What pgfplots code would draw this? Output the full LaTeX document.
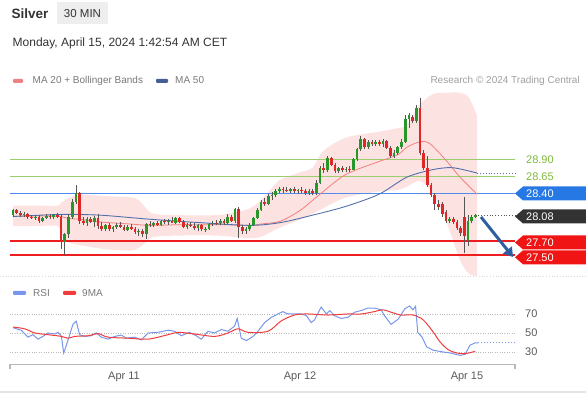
\documentclass[border=0pt]{standalone}
\usepackage{fontspec}
\setmainfont{Liberation Sans}
\usepackage{pgfplots}
\usepackage{pgfplotstable}
\pgfplotsset{compat=1.18}
\usepgfplotslibrary{fillbetween}
\usetikzlibrary{arrows.meta}
\definecolor{cgreen}{RGB}{40,150,40}
\definecolor{cred}{RGB}{222,40,40}
\definecolor{wick}{RGB}{85,85,85}
\definecolor{bandpink}{RGB}{253,226,226}
\definecolor{maline}{RGB}{240,128,128}
\definecolor{mafifty}{RGB}{82,112,172}
\definecolor{lvlgreen}{RGB}{155,205,110}
\definecolor{lvlblue}{RGB}{80,140,235}
\definecolor{lvlred}{RGB}{238,30,30}
\definecolor{tagblue}{RGB}{38,120,228}
\definecolor{tagdark}{RGB}{51,51,51}
\definecolor{tagred}{RGB}{240,20,20}
\definecolor{txtgreen}{RGB}{125,185,60}
\definecolor{rsiblue}{RGB}{120,150,235}
\definecolor{rsired}{RGB}{240,60,60}
\definecolor{labgray}{RGB}{90,90,90}
\definecolor{leggray}{RGB}{120,120,120}
\definecolor{arrowblue}{RGB}{45,95,160}

\pgfplotstableread{
i o h l c
0 28.08 28.17 28.06 28.15
1 28.15 28.17 28.09 28.11
2 28.11 28.14 28.06 28.08
3 28.08 28.12 28.05 28.10
4 28.10 28.11 28.03 28.05
5 28.05 28.08 28.02 28.04
6 28.04 28.07 28.01 28.06
7 28.06 28.08 27.97 28.00
8 28.00 28.05 27.98 28.04
9 28.04 28.09 28.02 28.07
10 28.07 28.09 28.03 28.05
11 28.05 28.10 28.03 28.08
12 28.08 28.11 28.04 28.06
13 28.06 28.09 27.58 27.68
14 27.68 27.82 27.49 27.80
15 27.80 28.10 27.75 28.06
16 28.06 28.32 28.02 28.28
17 28.28 28.52 28.25 28.40
18 28.40 28.42 27.95 28.00
19 28.00 28.06 27.93 27.97
20 27.97 28.05 27.92 28.02
21 28.02 28.06 27.96 27.98
22 27.98 28.07 27.90 28.04
23 28.04 28.10 27.88 27.92
24 27.92 27.98 27.85 27.88
25 27.88 27.95 27.84 27.93
26 27.93 27.96 27.85 27.87
27 27.87 27.92 27.83 27.90
28 27.90 27.97 27.87 27.94
29 27.94 27.98 27.89 27.91
30 27.91 27.94 27.84 27.86
31 27.86 27.93 27.84 27.91
32 27.91 27.95 27.86 27.88
33 27.88 27.90 27.80 27.83
34 27.83 27.88 27.78 27.85
35 27.85 27.87 27.76 27.80
36 27.80 27.97 27.73 27.95
37 27.95 27.99 27.91 27.93
38 27.93 27.98 27.90 27.96
39 27.96 28.00 27.92 27.94
40 27.94 28.01 27.92 27.99
41 27.99 28.03 27.95 27.98
42 27.98 28.02 27.94 28.00
43 28.00 28.05 27.96 27.97
44 27.97 28.06 27.95 28.04
45 28.04 28.06 27.96 27.98
46 27.98 28.01 27.89 27.91
47 27.91 27.97 27.88 27.94
48 27.94 27.98 27.90 27.92
49 27.92 27.96 27.86 27.89
50 27.89 27.95 27.85 27.93
51 27.93 27.95 27.84 27.87
52 27.87 27.91 27.83 27.88
53 27.88 27.97 27.86 27.95
54 27.95 28.00 27.92 27.97
55 27.97 28.01 27.93 27.96
56 27.96 28.02 27.93 28.00
57 27.99 28.03 27.94 27.97
58 27.97 28.09 27.95 28.05
59 28.05 28.08 27.98 28.00
60 28.00 28.19 27.97 28.17
61 28.17 28.20 27.75 27.90
62 27.90 27.94 27.80 27.85
63 27.85 27.90 27.81 27.88
64 27.88 27.96 27.85 27.94
65 27.94 28.06 27.92 28.04
66 28.04 28.18 28.02 28.16
67 28.16 28.30 28.14 28.27
68 28.27 28.33 28.22 28.25
69 28.25 28.39 28.23 28.36
70 28.36 28.42 28.30 28.38
71 28.38 28.46 28.34 28.44
72 28.44 28.50 28.40 28.47
73 28.47 28.50 28.41 28.45
74 28.45 28.49 28.42 28.44
75 28.44 28.48 28.40 28.46
76 28.46 28.50 28.41 28.43
77 28.43 28.47 28.39 28.45
78 28.45 28.49 28.41 28.44
79 28.44 28.47 28.38 28.41
80 28.41 28.46 28.38 28.44
81 28.44 28.47 28.37 28.40
82 28.40 28.60 28.38 28.56
83 28.56 28.80 28.54 28.78
84 28.78 28.85 28.70 28.74
85 28.74 28.95 28.72 28.92
86 28.92 28.94 28.80 28.82
87 28.82 28.85 28.70 28.73
88 28.73 28.79 28.70 28.77
89 28.77 28.80 28.71 28.74
90 28.74 28.79 28.71 28.76
91 28.76 28.80 28.72 28.75
92 28.75 28.92 28.74 28.90
93 28.90 29.07 28.87 29.05
94 29.05 29.24 29.03 29.20
95 29.20 29.22 29.05 29.08
96 29.08 29.18 29.06 29.15
97 29.15 29.19 29.10 29.12
98 29.12 29.18 29.09 29.15
99 29.15 29.19 29.10 29.13
100 29.13 29.20 29.08 29.17
101 29.17 29.19 29.05 29.07
102 29.07 29.09 28.92 28.95
103 28.95 29.04 28.92 29.00
104 29.00 29.10 28.97 29.08
105 29.08 29.20 29.05 29.16
106 29.16 29.55 29.14 29.50
107 29.50 29.58 29.36 29.55
108 29.53 29.56 29.43 29.46
109 29.46 29.70 29.44 29.66
110 29.66 29.81 28.96 29.00
111 29.00 29.04 28.74 28.78
112 28.78 28.95 28.50 28.53
113 28.53 28.55 28.34 28.38
114 28.38 28.40 28.16 28.24
115 28.24 28.30 28.15 28.20
116 28.24 28.27 28.06 28.09
117 28.12 28.15 27.96 28.00
118 28.00 28.06 27.96 28.03
119 28.03 28.06 27.95 27.98
120 27.98 28.01 27.86 27.89
121 27.89 27.92 27.78 27.82
122 28.05 28.34 27.53 27.77
123 27.72 28.08 27.62 27.99
124 27.99 28.08 27.97 28.06
125 28.06 28.10 28.04 28.08
}\candles

\pgfplotstableread{
i u d
0 28.22 27.92
6 28.22 27.92
12 28.22 27.92
13 28.26 27.80
15 28.33 27.68
18 28.38 27.64
25 28.36 27.58
32 28.34 27.56
34 28.30 27.60
36 28.18 27.68
38 28.10 27.76
45 28.08 27.78
55 28.08 27.78
60 28.12 27.76
64 28.18 27.74
67 28.30 27.76
70 28.48 27.84
72.2 28.60 27.90
77 28.70 28.00
81 28.78 28.10
83.8 29.02 28.18
90 29.22 28.34
99.2 29.31 28.43
104 29.36 28.45
106.5 29.41 28.50
110 29.71 28.58
113.5 29.86 28.40
117 29.88 28.00
120.8 29.88 27.42
123.2 29.81 27.22
125.4 29.55 27.18
}\band

\pgfplotstableread{
i v
0 28.06
6 28.07
12.7 28.06
15 28.03
18 28.02
23.5 27.98
31.6 27.95
37 27.93
45 27.94
50.5 27.94
57 27.94
64 27.93
67 27.95
72.2 27.99
77.6 28.15
83 28.39
90 28.68
99 28.87
104 28.97
106.5 29.08
110 29.16
112.7 29.13
117.3 28.87
120.8 28.64
125.4 28.39
}\matwenty

\pgfplotstableread{
i v
0 28.06
12.7 28.09
23.5 28.08
37 28.02
50.5 27.97
64 27.93
72.2 27.97
81 28.08
90 28.21
99 28.39
106.5 28.64
113.5 28.75
118 28.78
120.8 28.76
125.4 28.70
}\mafifty

\pgfplotstableread{
i v
0 55.5
2.25 52.9
4.05 45.6
5.4 48.2
6.76 43.5
8.1 46.4
9.46 50
11.3 48.9
12.2 50.7
13.1 46.4
13.7 28.9
14.9 42.7
16.2 59.1
17.1 62.4
18.0 48.2
19.4 46.4
21.2 47.1
22.5 50
23.9 45.6
25.7 43.5
27.5 46.4
29.3 47.8
30.6 44.5
32.9 45.6
34.7 42.7
36.5 50
39.2 50.7
41.9 52.9
43.7 51.8
45.5 47.1
47.7 50.7
49.5 47.1
50.9 43.5
52.7 51.8
54.5 50
56.3 53.6
58.1 51.8
59.9 57.3
60.6 65.3
61.7 44.5
63.1 42
64.9 46.4
66.2 51.8
68.0 60.9
69.8 66.4
71.6 70
72.9 72.5
74.3 70
76.1 70
77.9 70
79.3 68.2
80.6 60.9
81.5 63.8
83.3 77.3
84.7 70
85.6 73.6
86.9 68.2
88.7 65.3
90.5 66.4
92.3 71.8
94.1 73.6
95.9 76.2
97.7 76.2
99.5 74.4
100.4 68.2
102.2 59.1
104.1 64.5
105.9 75.5
107.2 78.4
108.1 74.4
108.8 78.0
109.4 50.5
110.5 46
111.8 35.4
113.6 31.8
116.3 30
118.1 29
120.8 26.4
122.2 27.5
123.5 37.1
124.9 39.6
125.7 39.6
}\rsi

\pgfplotstableread{
i v
0 56.2
3.15 54.4
5.9 50
9.46 48.2
13.1 46.4
14.9 44.5
16.7 46.4
20.3 47.1
23.0 49.3
25.7 45.6
31.1 44.5
36.5 43.5
41.9 48.2
44.6 50.7
49.1 48.9
54.5 46.4
58.1 50
60.8 54.4
63.5 50.7
68.9 51.8
72.5 62.7
76.1 68.9
79.7 70
85.1 68.9
90.5 70
94.1 70
97.7 72.5
100 74.4
102.2 71.8
104.9 68.9
108.1 68.9
110.8 64
113.5 51.4
115.4 40.7
117.6 32.5
120 28.9
122.2 28.2
124.9 30.7
}\rsima

\newcommand\pricetag[3]{%
  \fill[#2] (515,#1) -- (523,{#1+7}) -- (586,{#1+7}) -- (586,{#1-7}) -- (523,{#1-7}) -- cycle;
  \node[anchor=west, text=white, inner sep=0pt, font=\fontsize{11}{11}\selectfont] at (526,#1) {#3};}

\begin{document}
\begin{tikzpicture}[x=1pt,y=1pt]

% header
\fill[gray!13] (57,369) rectangle (108,391);
\node[anchor=base, inner sep=0pt, text=tagdark, font=\fontsize{11.5}{12}\selectfont] at (82.5,375.5) {30 MIN};
\node[anchor=base west, inner sep=0pt, text=tagdark, font=\bfseries\fontsize{13.5}{14}\selectfont] at (11.5,374.7) {Silver};
\node[anchor=base west, inner sep=0pt, text=tagdark, font=\fontsize{12}{13}\selectfont] at (12.5,346.3) {Monday, April 15, 2024 1:42:54 AM CET};

% legend main
\fill[maline, rounded corners=1pt] (13,310) rectangle (23,314);
\node[anchor=base west, inner sep=0pt, text=leggray, font=\fontsize{10}{11}\selectfont] at (32.5,309.7) {MA 20 + Bollinger Bands};
\fill[mafifty!85!black, rounded corners=1pt] (156,310) rectangle (168,314);
\node[anchor=base west, inner sep=0pt, text=leggray, font=\fontsize{10}{11}\selectfont] at (175,309.7) {MA 50};
\node[anchor=base east, inner sep=0pt, text=gray!75, font=\fontsize{10}{11}\selectfont] at (580,309) {Research © 2024 Trading Central};

% separators
\draw[gray!30, dotted, line width=0.8pt] (0,117) -- (586,117);
\draw[gray!22, line width=1.2pt] (0,1) -- (586,1);

\begin{axis}[at={(10pt,118pt)}, anchor=south west, scale only axis,
  width=505pt, height=190.4pt,
  xmin=-0.81, xmax=135.68, ymin=27.2, ymax=30.0,
  hide axis, clip=false]
  % Bollinger band
  \addplot[name path=bu, draw=none, smooth] table[x=i, y=u] {\band};
  \addplot[name path=bl, draw=none, smooth] table[x=i, y=d] {\band};
  \addplot[fill=bandpink, draw=none] fill between[of=bu and bl];
  % levels
  \addplot[lvlgreen, line width=0.8pt] coordinates {(-0.81,28.90) (135.68,28.90)};
  \addplot[lvlgreen, line width=0.8pt] coordinates {(-0.81,28.65) (135.68,28.65)};
  \addplot[lvlblue, line width=1.3pt] coordinates {(-0.81,28.40) (135.68,28.40)};
  \addplot[lvlred, line width=2pt] coordinates {(-0.81,27.70) (135.68,27.70)};
  \addplot[lvlred, line width=2pt] coordinates {(-0.81,27.50) (135.68,27.50)};
  % moving averages
  \addplot[maline, line width=0.8pt, smooth] table[x=i, y=v] {\matwenty};
  \addplot[mafifty, line width=0.9pt, smooth] table[x=i, y=v] {\mafifty};
  \addplot[mafifty, line width=0.9pt, dotted] coordinates {(125.4,28.70) (135.68,28.70)};
  \addplot[wick, line width=0.8pt, dotted] coordinates {(125.8,28.08) (135.68,28.08)};
  % candles: wicks
  \addplot[draw=none, mark=none, error bars/.cd, y dir=plus, y explicit, error mark=none,
    error bar style={line width=0.7pt, draw=wick}]
    table[x=i, y=l, y error expr=\thisrow{h}-\thisrow{l}] {\candles};
  % candles: bodies
  \addplot[draw=none, mark=none, error bars/.cd, y dir=plus, y explicit, error mark=none,
    error bar style={line width=2.7pt, line cap=butt, draw=cgreen}]
    table[x=i, y=o, y error expr={max(\thisrow{c}-\thisrow{o},0)}] {\candles};
  \addplot[draw=none, mark=none, error bars/.cd, y dir=plus, y explicit, error mark=none,
    error bar style={line width=2.7pt, line cap=butt, draw=cred}]
    table[x=i, y=c, y error expr={max(\thisrow{o}-\thisrow{c},0)}] {\candles};
\end{axis}

% level labels
\node[anchor=west, inner sep=0pt, text=txtgreen, font=\fontsize{11}{11}\selectfont] at (526,233) {28.90};
\node[anchor=west, inner sep=0pt, text=txtgreen, font=\fontsize{11}{11}\selectfont] at (526,216) {28.65};
\pricetag{199.5}{tagblue}{28.40}
\pricetag{176.5}{tagdark}{28.08}
\pricetag{150.5}{tagred}{27.70}
\pricetag{135.7}{tagred}{27.50}
\draw[arrowblue, line width=3pt, -{Triangle[length=9pt,width=11pt]}] (481,176) -- (513,136);

% RSI legend
\fill[rsiblue, rounded corners=1pt] (13,98) rectangle (26,102);
\node[anchor=base west, inner sep=0pt, text=leggray, font=\fontsize{10}{11}\selectfont] at (33,96.3) {RSI};
\fill[rsired, rounded corners=1pt] (63,98) rectangle (76,102);
\node[anchor=base west, inner sep=0pt, text=leggray, font=\fontsize{10}{11}\selectfont] at (82,96.3) {9MA};

\begin{axis}[at={(10pt,28pt)}, anchor=south west, scale only axis,
  width=505pt, height=65pt,
  xmin=-0.81, xmax=135.68, ymin=16.3, ymax=84.7,
  axis line style={draw=none}, major tick length=0pt,
  xtick={30,77.6,122.7}, xticklabels={Apr 11,Apr 12,Apr 15},
  ytick={30,50,70}, yticklabel pos=right,
  ymajorgrids, major grid style={draw=gray!55, dotted, line width=0.8pt},
  xticklabel style={anchor=base, yshift=-15pt, inner sep=0pt, text=labgray, font=\fontsize{11}{11}\selectfont},
  yticklabel style={anchor=west, xshift=10pt, inner sep=0pt, text=labgray, font=\fontsize{11}{11}\selectfont},
  /pgf/number format/assume math mode=true,
  clip=false]
  \addplot[rsiblue, line width=1pt] table[x=i, y=v] {\rsi};
  \addplot[rsiblue, line width=1pt, dotted] coordinates {(125.7,39.6) (135.68,39.6)};
  \addplot[rsired, line width=1pt, smooth] table[x=i, y=v] {\rsima};
\end{axis}
\draw[gray!55, line width=1.2pt] (10,23.5) -- (10,28.5) -- (515,28.5) -- (515,23.5);
\pgfresetboundingbox
\path[use as bounding box] (0,0) rectangle (586,393);
\end{tikzpicture}
\end{document}
